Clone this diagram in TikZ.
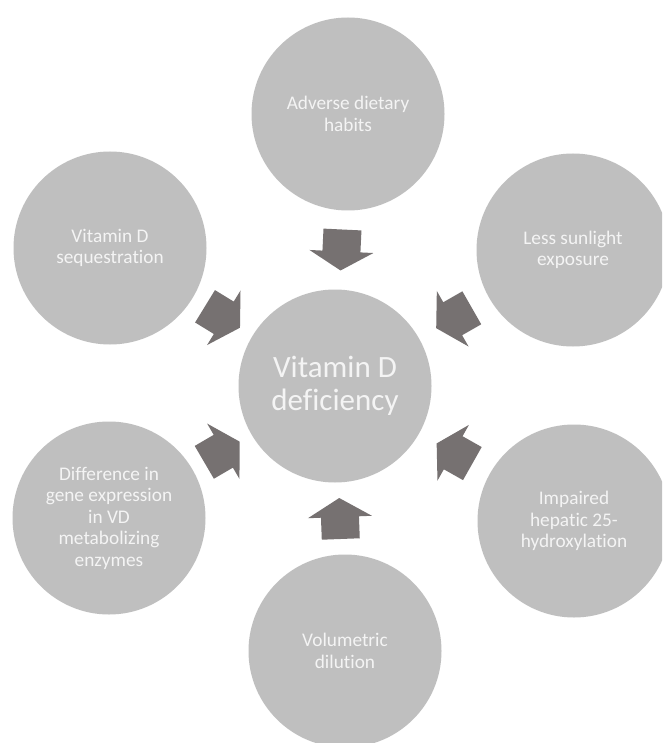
\documentclass[tikz,border=0pt]{standalone}
\usepackage{fontspec}
\setmainfont{Carlito}[Ligatures={NoCommon,NoContextual}]
\usetikzlibrary{calc}
\definecolor{circfill}{HTML}{BFBFBF}
\definecolor{arrfill}{HTML}{767171}
\definecolor{txtcol}{HTML}{F4F4F4}
% block arrow placed halfway between two nodes, pointing from #1 to #2
\newcommand\blockarrow[2]{%
  \pgfmathanglebetweenpoints{\pgfpointanchor{#1}{center}}{\pgfpointanchor{#2}{center}}%
  \let\arrang\pgfmathresult
  \fill[arrowbody, shift={($(#1)!0.5!(#2)$)}, rotate=\arrang]
    (-20.5,-19) -- (1.5,-19) -- (1.5,-32) -- (20.5,0) -- (1.5,32) -- (1.5,19) -- (-20.5,19) -- cycle;
}
\begin{document}
\begin{tikzpicture}[x=1pt,y=-1pt,
  circ/.style={circle, fill=circfill, minimum size=193pt, inner sep=0pt,
    text=txtcol, align=center, font=\fontsize{19.3}{21.5}\selectfont},
  bigcirc/.style={circ, font=\fontsize{31}{33}\selectfont},
  arrowbody/.style={fill=arrfill}]
\clip (0,0) rectangle (662,743);
\fill[white] (0,0) rectangle (662,743);
\node[bigcirc] (c)  at (335,386) {Vitamin D\\deficiency};
\node[circ] (t)  at (348,114) {Adverse dietary\\habits};
\node[circ] (tr) at (573,250) {Less sunlight\\exposure};
\node[circ] (br) at (574,521) {Impaired\\hepatic 25-\\hydroxylation};
\node[circ] (b)  at (345,651) {Volumetric\\dilution};
\node[circ] (bl) at (109,518) {Difference in\\gene expression\\in VD\\metabolizing\\enzymes};
\node[circ] (tl) at (110,248) {Vitamin D\\sequestration};
\blockarrow{t}{c}
\blockarrow{tr}{c}
\blockarrow{br}{c}
\blockarrow{b}{c}
\blockarrow{bl}{c}
\blockarrow{tl}{c}
\end{tikzpicture}
\end{document}
